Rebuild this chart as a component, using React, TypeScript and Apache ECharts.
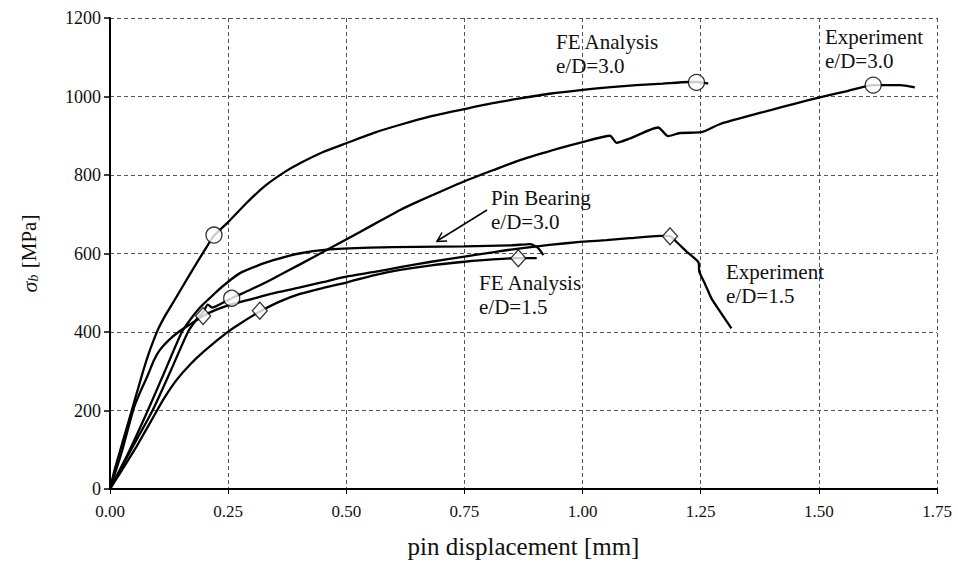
import React, { useEffect, useRef } from "react";
import * as echarts from "echarts";

// pin displacement [mm], bearing stress [MPa]
const feAnalysis30: number[][] = [
  [0, 0], [0.01, 50], [0.022, 100], [0.034, 150], [0.046, 200], [0.058, 250],
  [0.07, 300], [0.081, 342], [0.092, 378], [0.103, 410], [0.115, 438],
  [0.128, 464], [0.141, 490], [0.162, 533], [0.183, 575], [0.2, 608], [0.22, 645],
  [0.25, 680], [0.29, 730], [0.33, 774], [0.37, 808], [0.402, 830], [0.45, 858],
  [0.5, 881], [0.56, 908], [0.614, 928], [0.68, 950], [0.75, 968], [0.81, 983],
  [0.8675, 995], [0.93, 1007], [1.0, 1017], [1.06, 1024], [1.114, 1029],
  [1.17, 1033], [1.224, 1037], [1.245, 1037], [1.266, 1033],
];

const experiment30: number[][] = [
  [0, 0], [0.04, 90], [0.09, 200], [0.128, 300], [0.165, 400], [0.185, 435],
  [0.197, 450], [0.207, 470], [0.216, 462], [0.235, 472], [0.2575, 486],
  [0.296, 507], [0.3386, 532], [0.4, 571], [0.4585, 609], [0.529, 655],
  [0.57, 682], [0.614, 711], [0.649, 731], [0.7, 758], [0.75, 784], [0.81, 812],
  [0.8675, 838], [0.95, 868], [1.0, 884], [1.058, 900], [1.072, 882], [1.1, 893],
  [1.16, 921], [1.181, 899], [1.206, 907], [1.252, 909], [1.291, 930],
  [1.35, 950], [1.4, 966], [1.45, 982], [1.502, 998], [1.56, 1014],
  [1.615, 1029], [1.672, 1029], [1.703, 1023],
];

const pinBearing30: number[][] = [
  [0, 0], [0.04, 95], [0.08, 200], [0.116, 300], [0.152, 400], [0.172, 435],
  [0.19, 462], [0.21, 485], [0.2257, 503], [0.25, 528], [0.275, 550],
  [0.31, 568], [0.3456, 583], [0.4, 600], [0.4585, 610], [0.55, 615],
  [0.65, 617], [0.75, 618], [0.85, 621], [0.889, 624], [0.905, 615], [0.917, 596],
];

const feAnalysis15: number[][] = [
  [0, 0], [0.02, 38], [0.056, 108], [0.075, 148], [0.092, 184], [0.115, 232],
  [0.141, 278], [0.17, 318], [0.2, 352], [0.25, 401], [0.28, 425], [0.317, 452],
  [0.36, 478], [0.402, 497], [0.45, 512], [0.5, 526], [0.56, 545], [0.614, 558],
  [0.68, 570], [0.75, 579], [0.81, 585], [0.864, 588], [0.903, 588],
];

const experiment15: number[][] = [
  [0, 0], [0.025, 95], [0.05, 205], [0.065, 250], [0.08, 290], [0.093, 328],
  [0.106, 355], [0.125, 380], [0.145, 400], [0.17, 420], [0.197, 441],
  [0.225, 457], [0.25, 468], [0.3, 484], [0.34, 497], [0.4, 513], [0.45, 527],
  [0.5, 541], [0.56, 553], [0.614, 565], [0.68, 579], [0.75, 592], [0.81, 603],
  [0.86, 612], [0.93, 622], [1.0, 630], [1.05, 634], [1.1, 639], [1.164, 645],
  [1.185, 644], [1.2, 628], [1.22, 605], [1.245, 578], [1.247, 554],
  [1.26, 520], [1.273, 485], [1.291, 452], [1.315, 409],
];

const circleMarks: number[][] = [
  [0.22, 647], [1.241, 1036], [0.2575, 486], [1.615, 1029],
];
const diamondMarks: number[][] = [
  [0.317, 454], [0.864, 588], [0.197, 441], [1.185, 644],
];

const xTicks = { min: 0, max: 1.75, interval: 0.25 };
const yTicks = { min: 0, max: 1200, interval: 200 };

const FONT = "'Liberation Serif', 'DejaVu Serif', serif";

export default function App() {
  const ref = useRef<HTMLDivElement>(null);

  useEffect(() => {
    if (!ref.current) return;
    const chart = echarts.init(ref.current, undefined, { renderer: "svg" });

    const lineSeries = (data: number[][]) => ({
      type: "line",
      data,
      smooth: 0.2,
      showSymbol: false,
      symbol: "none",
      lineStyle: { color: "#000", width: 2.3 },
      z: 3,
    });

    const annot = (x: number, y: number, lines: string[]) =>
      lines.map((t, i) => ({
        type: "text",
        x,
        y: y + i * 24,
        style: {
          text: t,
          fill: "#111",
          font: `21px ${FONT}`,
          textVerticalAlign: "middle",
        },
        z: 10,
      }));

    chart.setOption({
      animation: false,
      backgroundColor: "#fff",
      grid: { left: 110, right: 21, top: 18, bottom: 82, containLabel: false },
      xAxis: {
        type: "value",
        min: xTicks.min,
        max: xTicks.max,
        interval: xTicks.interval,
        name: "pin displacement [mm]",
        nameLocation: "middle",
        nameGap: 45,
        nameTextStyle: { fontFamily: FONT, fontSize: 25, color: "#111" },
        axisLine: { show: true, lineStyle: { color: "#000", width: 2 } },
        axisTick: { show: true, length: 5, lineStyle: { color: "#000", width: 1 } },
        axisLabel: {
          fontFamily: FONT,
          fontSize: 17,
          color: "#111",
          margin: 14,
          formatter: (v: number) => v.toFixed(2),
        },
        splitLine: {
          show: true,
          lineStyle: { color: "#555", width: 1, type: [4, 3] },
        },
      },
      yAxis: {
        type: "value",
        min: yTicks.min,
        max: yTicks.max,
        interval: yTicks.interval,
        name: "{s|σ}{b|b} [MPa]",
        nameLocation: "middle",
        nameGap: 70,
        nameRotate: 90,
        nameTextStyle: {
          fontFamily: FONT,
          fontSize: 21,
          color: "#111",
          rich: {
            s: { fontFamily: FONT, fontSize: 22, fontStyle: "italic", color: "#111" },
            b: {
              fontFamily: FONT,
              fontSize: 14,
              fontStyle: "italic",
              color: "#111",
              padding: [8, 1, 0, 0],
            },
          },
        },
        axisLine: { show: true, lineStyle: { color: "#000", width: 2 } },
        axisTick: { show: true, length: 6, lineStyle: { color: "#000", width: 1.5 } },
        axisLabel: {
          fontFamily: FONT,
          fontSize: 18,
          color: "#111",
          margin: 9,
          formatter: (v: number) => String(v),
        },
        splitLine: {
          show: true,
          lineStyle: { color: "#555", width: 1, type: [4, 3] },
        },
      },
      series: [
        lineSeries(feAnalysis30),
        lineSeries(experiment30),
        lineSeries(pinBearing30),
        lineSeries(feAnalysis15),
        lineSeries(experiment15),
        {
          type: "scatter",
          data: circleMarks,
          symbol: "circle",
          symbolSize: 16,
          itemStyle: { color: "#fff", borderColor: "#000", borderWidth: 1.3 },
          z: 5,
        },
        {
          type: "scatter",
          data: diamondMarks,
          symbol: "diamond",
          symbolSize: [15, 17],
          itemStyle: { color: "#fff", borderColor: "#000", borderWidth: 1.3 },
          z: 5,
        },
      ],
      graphic: [
        ...annot(556, 42, ["FE Analysis", "e/D=3.0"]),
        ...annot(825, 37, ["Experiment", "e/D=3.0"]),
        ...annot(491, 198, ["Pin Bearing", "e/D=3.0"]),
        ...annot(479, 283, ["FE Analysis", "e/D=1.5"]),
        ...annot(726, 272, ["Experiment", "e/D=1.5"]),
        {
          type: "line",
          shape: { x1: 487, y1: 210, x2: 437, y2: 241 },
          style: { stroke: "#000", lineWidth: 1.5 },
          z: 10,
        },
        {
          type: "polyline",
          shape: { points: [[447, 241], [437, 241.5], [442, 232.5]] },
          style: { stroke: "#000", lineWidth: 1.5, fill: "none" },
          z: 10,
        },
      ],
    });

    return () => chart.dispose();
  }, []);

  return (
    <div
      ref={ref}
      style={{ position: "absolute", left: 0, top: 0, width: 958, height: 571, background: "#fff" }}
    />
  );
}
